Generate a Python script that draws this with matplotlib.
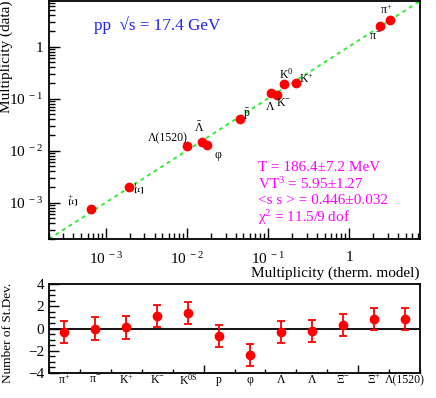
import numpy as np
import matplotlib
matplotlib.use('Agg')
import matplotlib.pyplot as plt
from matplotlib.ticker import LogLocator, FixedLocator, MultipleLocator, FuncFormatter

plt.rcParams['font.family'] = ['Liberation Serif', 'DejaVu Serif']
plt.rcParams['mathtext.fontset'] = 'custom'
plt.rcParams['mathtext.rm'] = 'Liberation Serif'
plt.rcParams['mathtext.it'] = 'Liberation Serif'

# top panel: multiplicities
particles = ['π+', 'π-', 'K0', 'K+', 'Λ', 'K-', 'pbar', 'Λ(1520)', 'Λbar', 'φ', 'Ξ-', 'Ξbar+']
top_labels = [r'$\mathregular{π^{+}}$', r'$\mathregular{π^{-}}$', r'$\mathregular{K^{0}}$',
              r'$\mathregular{K^{+}}$', 'Λ', r'$\mathregular{K^{-}}$', r'$\mathregular{\bar{p}}$',
              'Λ(1520)', r'$\mathregular{\bar{\Lambda}}$', 'φ', r'$\mathregular{Ξ^{-}}$',
              r'$\mathregular{Ξ^{+}}$']
mult_model = [3.16, 2.4, 0.157, 0.22, 0.11, 0.13, 0.045, 0.0101, 0.0153, 0.0175, 0.00196, 6.6e-4]
mult_data = [3.2, 2.5, 0.19, 0.20, 0.13, 0.115, 0.04, 0.012, 0.0148, 0.0126, 0.002, 7.4e-4]
# label offsets in pixels (dx, dy)
label_offsets = [(-3, 10), (-5, -11), (2, 10), (11, 4), (-1, -14), (6, -8), (7, 5),
                 (-19, 8), (-3, 14), (11, -10), (12, 0), (-16, 10)]
label_rot = [0, 0, 0, 0, 0, 0, 0, 0, 0, 0, 90, 90]

# bottom panel: deviations
dev_labels = [r'$\mathregular{π^{+}}$', r'$\mathregular{π^{-}}$', r'$\mathregular{K^{+}}$',
              r'$\mathregular{K^{-}}$', r'$\mathregular{K^{0S}}$', 'p', 'φ', 'Λ', 'Λ',
              r'$\mathregular{Ξ^{-}}$', r'$\mathregular{\bar{Ξ}^{+}}$', 'Λ(1520)']
n_sigma = [-0.3, 0.0, 0.1, 1.15, 1.42, -0.65, -2.4, -0.3, -0.25, 0.3, 0.83, 0.85]
n_sigma_err = [1.0] * 12

fig = plt.figure(figsize=(4.36, 3.98), dpi=100)
ax = fig.add_axes([0.1124, 0.3995, 0.8509, 0.598])
ax2 = fig.add_axes([0.1124, 0.0628, 0.8509, 0.2236])

lim = (2.0e-4, 7.5)
ax.set_xscale('log')
ax.set_yscale('log')
ax.set_xlim(lim)
ax.set_ylim(lim)
ax.plot(lim, lim, color='#33ee33', ls=(0, (2, 2)), lw=1.4, zorder=1)
ax.plot(mult_model, mult_data, 'o', color='#ff0000', ms=6, mec='#ff0000', zorder=3)
for x, y, lab, off, rot in zip(mult_model, mult_data, top_labels, label_offsets, label_rot):
    ax.annotate(lab, (x, y), xytext=off, textcoords='offset pixels', ha='center', va='center',
                fontsize=8.5, rotation=rot)


def log_fmt(v, pos):
    e = int(round(np.log10(v)))
    if e == 0:
        return '1'
    return r'$\mathregular{10^{\ %d}}$' % e


for a in (ax.xaxis, ax.yaxis):
    a.set_major_locator(LogLocator(base=10))
    a.set_minor_locator(LogLocator(base=10, subs=np.arange(2, 10)))
    a.set_major_formatter(FuncFormatter(log_fmt))
    a.set_minor_formatter(FuncFormatter(lambda v, p: ''))
ax.tick_params(which='both', direction='in', top=False, right=False, labelsize=11)
ax.tick_params(which='major', length=8, width=1)
ax.tick_params(which='minor', length=4, width=1)
ax.tick_params(axis='x', pad=9)
ax.tick_params(axis='y', pad=4)
for s in ax.spines.values():
    s.set_linewidth(1.3)

ax.text(0.12, 0.897, 'pp  √s = 17.4 GeV', transform=ax.transAxes, color='#1f1fff',
        fontsize=12.3, ha='left', va='center')
fit_lines = ['T = 186.4±7.2 MeV', r'VT$\mathregular{^{3}}$ = 5.95±1.27',
             '<s s > = 0.446±0.032', r'χ$\mathregular{^{2}}$ = 11.5/9 dof']
for i, t in enumerate(fit_lines):
    ax.text(0.562, 0.302 - i * 0.071, t, transform=ax.transAxes, color='#ff00ff',
            fontsize=11, ha='left', va='center')

fig.text(0.963, 0.313, 'Multiplicity (therm. model)', ha='right', va='center', fontsize=11)
fig.text(0.014, 0.998, 'Multiplicity (data)', rotation=90, ha='center', va='top', fontsize=11)

# bottom panel
xpos = np.arange(len(n_sigma)) + 0.5
ax2.axhline(0, color='black', lw=1.3, zorder=1)
ax2.errorbar(xpos, n_sigma, yerr=n_sigma_err, fmt='o', color='#ff0000', ms=6,
             capsize=3, elinewidth=1.3, capthick=1.3, zorder=3)
ax2.set_xlim(0, 12)
ax2.set_ylim(-4, 4)
ax2.yaxis.set_major_locator(FixedLocator([-4, -2, 0, 2, 4]))
ax2.yaxis.set_minor_locator(MultipleLocator(0.5))
ax2.xaxis.set_major_locator(FixedLocator([5, 10]))
ax2.xaxis.set_minor_locator(MultipleLocator(1))
ax2.set_xticklabels([])
ax2.tick_params(which='both', direction='in', top=False, right=False, labelsize=11)
ax2.tick_params(axis='x', which='major', length=6, width=1)
ax2.tick_params(axis='x', which='minor', length=3, width=1)
ax2.tick_params(axis='y', which='major', length=7, width=1)
ax2.tick_params(axis='y', which='minor', length=4, width=1)
for s in ax2.spines.values():
    s.set_linewidth(1.3)
for x, lab in zip(xpos, dev_labels):
    ax2.text(x, -4.65, lab, ha='center', va='center', fontsize=8.5)
fig.text(0.018, 0.289, 'Number of St.Dev.', rotation=90, ha='center', va='top', fontsize=9.5)

fig.savefig('out.png', dpi=100)
